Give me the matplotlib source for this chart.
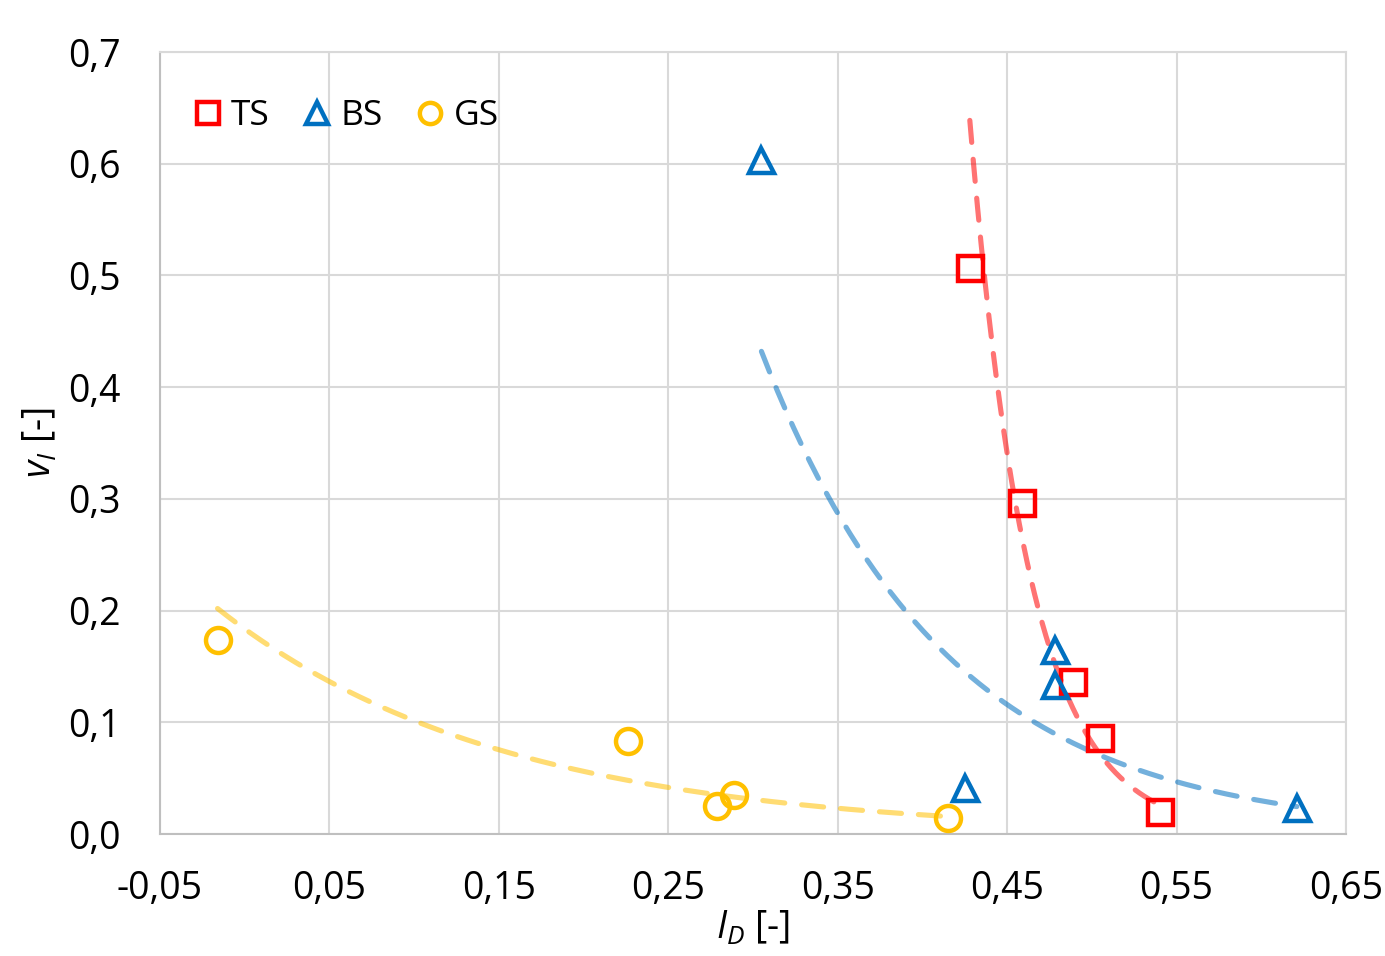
import numpy as np
import matplotlib
matplotlib.use("Agg")
import matplotlib.pyplot as plt
from matplotlib.ticker import FuncFormatter

plt.rcParams['font.family'] = ['Open Sans', 'DejaVu Sans']
plt.rcParams['mathtext.fontset'] = 'custom'
plt.rcParams['mathtext.it'] = 'Open Sans:italic'
plt.rcParams['mathtext.rm'] = 'Open Sans'

# data
ts_x = [0.428, 0.459, 0.489, 0.505, 0.540]
ts_y = [0.507, 0.296, 0.136, 0.086, 0.020]

bs_x = [0.305, 0.478, 0.478, 0.425, 0.621]
bs_y = [0.603, 0.165, 0.133, 0.041, 0.023]

gs_x = [-0.016, 0.226, 0.279, 0.289, 0.415]
gs_y = [0.174, 0.083, 0.025, 0.035, 0.014]

series = [
    ("TS", ts_x, ts_y, "s", "#FF0000"),
    ("BS", bs_x, bs_y, "^", "#0070C0"),
    ("GS", gs_x, gs_y, "o", "#FFC000"),
]

fig = plt.figure(figsize=(13.85, 9.56), dpi=100)
ax = fig.add_axes([0.1155, 0.1276, 0.8563, 0.818])

# exponential trend lines (fitted to each series)
for name, x, y, m, c in series:
    x = np.array(x)
    y = np.array(y)
    b, a = np.polyfit(x, np.log(y), 1)
    xs = np.linspace(x.min(), x.max(), 200)
    ax.plot(xs, np.exp(a) * np.exp(b * xs), color=c, alpha=0.55, lw=3.7,
            dashes=(4.3, 3.3), dash_capstyle='round', zorder=2)

for name, x, y, m, c in series:
    ax.plot(x, y, linestyle='none', marker=m, ms=18, mfc='none', mec=c,
            mew=3.2, label=name, zorder=3)

ax.set_xlim(-0.05, 0.65)
ax.set_ylim(0, 0.7)
ax.set_xticks(np.arange(-0.05, 0.66, 0.1))
ax.set_yticks(np.arange(0, 0.71, 0.1))
ax.xaxis.set_major_formatter(FuncFormatter(lambda v, p: f"{v:.2f}".replace(".", ",")))
ax.yaxis.set_major_formatter(FuncFormatter(lambda v, p: f"{v:.1f}".replace(".", ",")))
ax.tick_params(length=0, labelsize=27)
ax.tick_params(axis='x', pad=26)
ax.tick_params(axis='y', pad=28)
ax.grid(True, color="#D9D9D9", lw=1.5)
ax.set_axisbelow(True)
for s in ax.spines.values():
    s.set_color("#D9D9D9")
    s.set_linewidth(1.5)
ax.spines['bottom'].set_color("#BFBFBF")
ax.spines['left'].set_color("#BFBFBF")

ax.set_xlabel(r"$I_D$ [-]", fontsize=27, labelpad=1)
ax.set_ylabel(r"$v_I$ [-]", fontsize=27, labelpad=6)

leg = ax.legend(loc='upper left', ncol=3, frameon=False, fontsize=25.5,
                markerscale=0.85, handlelength=0.7, handletextpad=0.3,
                columnspacing=1.0, borderaxespad=0.6, bbox_to_anchor=(0.0, 0.985))

fig.savefig("out.png", dpi=100)
